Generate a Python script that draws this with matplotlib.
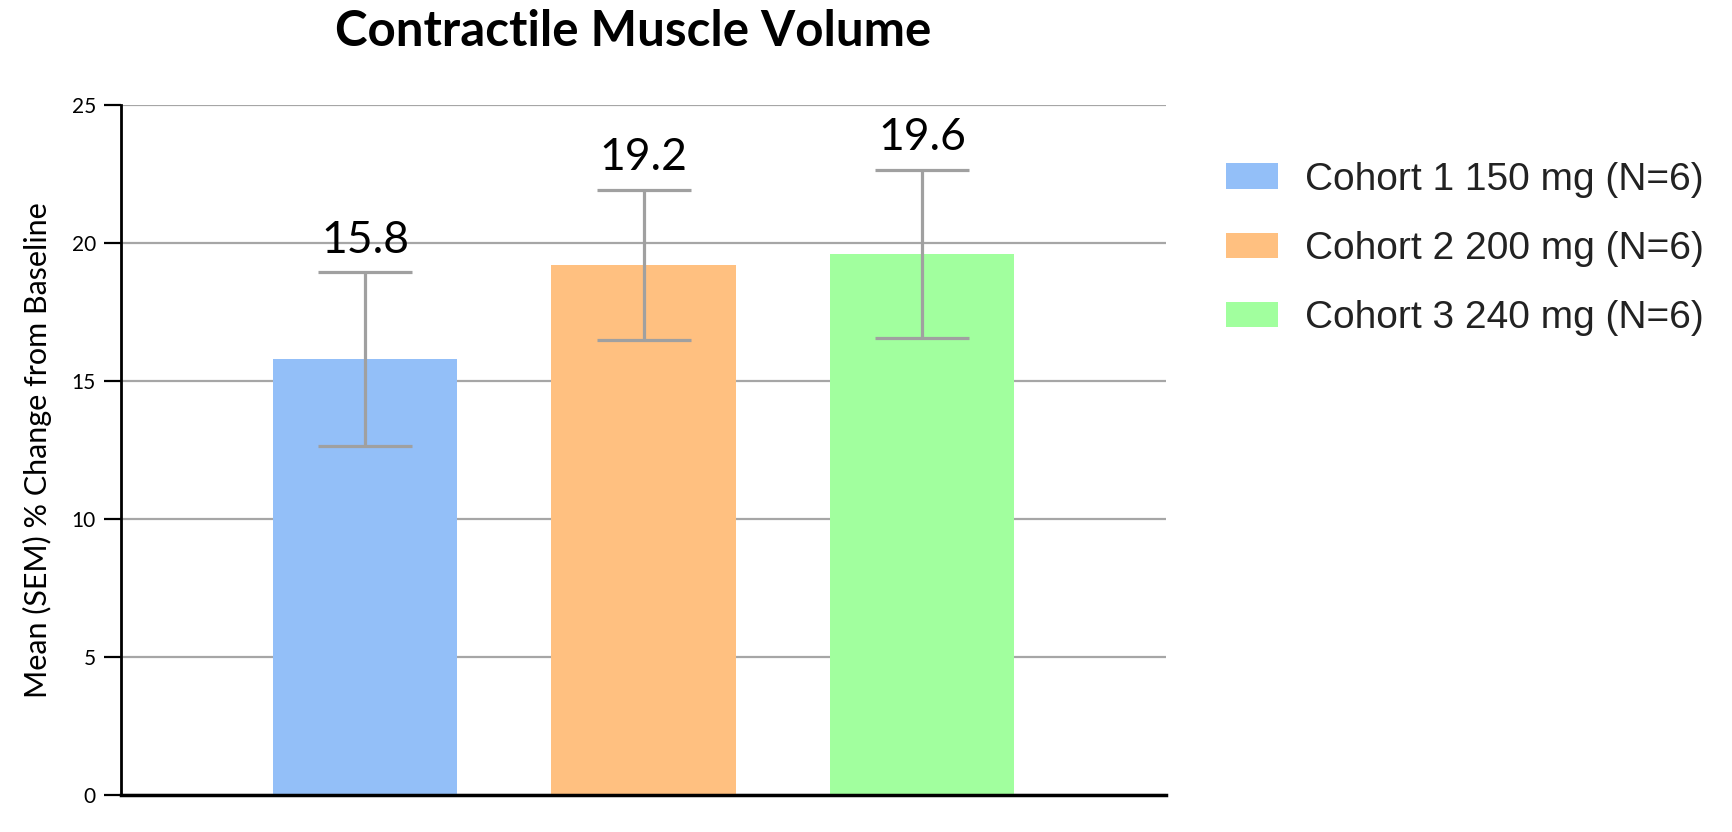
import matplotlib
matplotlib.use("Agg")
import matplotlib.pyplot as plt
from matplotlib.patches import Patch

# ---- data ----
cohorts = ["Cohort 1 150 mg (N=6)", "Cohort 2 200 mg (N=6)", "Cohort 3 240 mg (N=6)"]
means = [15.8, 19.2, 19.6]
sem = [3.15, 2.73, 3.05]
value_labels = ["15.8", "19.2", "19.6"]
colors = ["#93BFF8", "#FFC080", "#A1FF9E"]
yticks = [0, 5, 10, 15, 20, 25]
ytick_labels = ["0", "5", "10", "15", "20", "25"]
title = "Contractile Muscle Volume"
ylabel = "Mean (SEM) % Change from Baseline"

W, H = 1732, 832
fig = plt.figure(figsize=(W / 100, H / 100), dpi=100)
ax = fig.add_axes([121 / W, 1 - 795 / H, (1166 - 121) / W, (795 - 105) / H])

x = list(range(len(means)))
ax.bar(x, means, width=0.662, color=colors, zorder=2)
ax.errorbar(x, means, yerr=sem, fmt="none", ecolor="#A0A0A0", elinewidth=2.3,
            capsize=34, capthick=2.3, zorder=3)
for xi, m, s, lab in zip(x, means, sem, value_labels):
    ax.annotate(lab, (xi, m + s), xytext=(0, 14), textcoords="offset points",
                ha="center", va="baseline", fontsize=32, family="Lato", color="black")

ax.set_xlim(-0.876, 2.876)
ax.set_ylim(0, 25)
ax.set_yticks(yticks)
ax.set_yticklabels(ytick_labels, family="Lato", fontsize=15)
ax.set_xticks([])
ax.grid(axis="y", color="#A6A6A6", linewidth=1.6, zorder=0)
ax.set_axisbelow(True)
for s in ["top", "right"]:
    ax.spines[s].set_visible(False)
ax.spines["left"].set_linewidth(2.0)
ax.spines["bottom"].set_linewidth(2.5)
ax.tick_params(axis="y", length=12, width=1.6, direction="out", pad=6, colors="black")
ax.set_ylabel(ylabel, family="Lato", fontsize=22, labelpad=14)

fig.text(633 / W, 1 - 46 / H, title, ha="center", va="baseline",
         fontsize=35.5, fontweight="bold", family="Lato")

handles = [Patch(facecolor=c, edgecolor="none") for c in colors]
fig.legend(handles, cohorts, loc="upper left", bbox_to_anchor=(1226 / W, 1 - 162 / H),
           frameon=False, borderpad=0, borderaxespad=0,
           prop={"family": "Liberation Sans", "size": 28},
           handlelength=1.34, handleheight=0.64, handletextpad=0.69, labelspacing=0.85,
           labelcolor="#222222")

fig.savefig("out.png", dpi=100)
